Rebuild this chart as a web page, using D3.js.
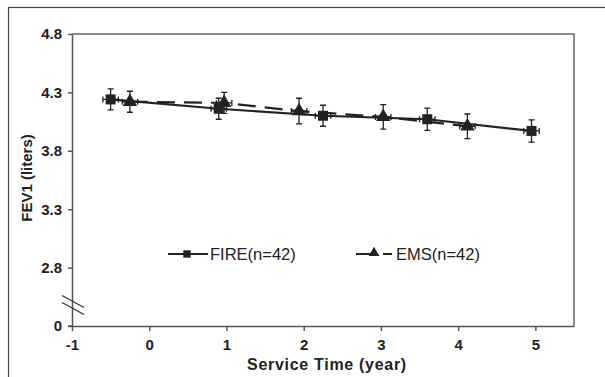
<!DOCTYPE html>
<html>
<head>
<meta charset="utf-8">
<script src="https://cdn.jsdelivr.net/npm/d3@7"></script>
<style>
  body { margin: 0; background: #fff; }
  text { font-family: "Liberation Sans", Arial, sans-serif; fill: #222; }
</style>
</head>
<body>
<svg id="chart" width="605" height="377"></svg>
<script>
// service time (year) and FEV1 (liters) for each group
const fireX = [-0.5, 0.9, 2.25, 3.6, 4.95];
const fireY = [4.24, 4.16, 4.10, 4.07, 3.97];
const fireErrY = [0.09, 0.09, 0.09, 0.095, 0.095];
const emsX = [-0.25, 0.97, 1.94, 3.03, 4.12];
const emsY = [4.22, 4.21, 4.14, 4.09, 4.01];
const emsErrY = [0.09, 0.09, 0.11, 0.105, 0.105];
const errX = 0.1;

const xTicks = [-1, 0, 1, 2, 3, 4, 5];
const yTicks = [2.3, 2.8, 3.3, 3.8, 4.3, 4.8];
const yTickLabels = ["0", "2.8", "3.3", "3.8", "4.3", "4.8"];

const svg = d3.select("#chart");

// outer frame (only left/top fall inside the picture)
svg.append("rect")
  .attr("x", 8.5).attr("y", 7.5)
  .attr("width", 620).attr("height", 400)
  .attr("fill", "none").attr("stroke", "#444").attr("stroke-width", 1.2);

const x = d3.scaleLinear().domain([-1, 5.5]).range([72, 574]);
const y = d3.scaleLinear().domain([2.3, 4.8]).range([326, 34]);

// plot frame top / right
svg.append("path")
  .attr("d", `M${x(-1)},${y(4.8)}H${x(5.5)}V${y(2.3)}`)
  .attr("fill", "none").attr("stroke", "#666").attr("stroke-width", 1.5);

const xAxis = svg.append("g")
  .attr("transform", `translate(0,${y(2.3)})`)
  .call(d3.axisBottom(x).tickValues(xTicks).tickSize(5).tickSizeOuter(0).tickPadding(8).tickFormat(d => String(d)));
const yAxis = svg.append("g")
  .attr("transform", `translate(${x(-1)},0)`)
  .call(d3.axisLeft(y).tickValues(yTicks).tickSize(4).tickSizeOuter(0).tickPadding(6)
    .tickFormat((d, i) => yTickLabels[i]));

[xAxis, yAxis].forEach(a => {
  a.select(".domain").attr("stroke", "#555").attr("stroke-width", 1.5);
  a.selectAll(".tick line").attr("stroke", "#555").attr("stroke-width", 1.5);
  a.selectAll(".tick text")
    .attr("fill", "#222")
    .style("font-family", "'Liberation Sans', Arial, sans-serif")
    .style("font-size", "15px").style("font-weight", "bold");
});
// extend the axes a little past the corner like the original
svg.append("line").attr("x1", 68).attr("x2", x(-1)).attr("y1", y(2.3)).attr("y2", y(2.3))
  .attr("stroke", "#555").attr("stroke-width", 1.5);

// axis break marks
[0, 7].forEach(off => {
  svg.append("line")
    .attr("x1", 62).attr("y1", 295.5 + off)
    .attr("x2", 84).attr("y2", 307.5 + off)
    .attr("stroke", "#333").attr("stroke-width", 1.3);
});

// axis titles
svg.append("text")
  .attr("x", 327).attr("y", 370)
  .attr("text-anchor", "middle")
  .style("font-size", "16px").style("font-weight", "bold").style("letter-spacing", "0.7px")
  .text("Service Time (year)");
svg.append("text")
  .attr("transform", "translate(32,178) rotate(-90)")
  .attr("text-anchor", "middle")
  .style("font-size", "15px").style("font-weight", "bold")
  .text("FEV1 (liters)");

const line = d3.line().x(d => x(d[0])).y(d => y(d[1]));
const fire = fireX.map((v, i) => [v, fireY[i], fireErrY[i]]);
const ems = emsX.map((v, i) => [v, emsY[i], emsErrY[i]]);

function errorBars(data) {
  const g = svg.append("g").attr("stroke", "#222").attr("stroke-width", 1.3);
  data.forEach(d => {
    const cx = x(d[0]), cy = y(d[1]);
    const top = y(d[1] + d[2]), bot = y(d[1] - d[2]);
    const l = x(d[0] - errX), r = x(d[0] + errX);
    g.append("path").attr("fill", "none")
      .attr("d", `M${cx},${top}V${bot}M${cx - 3},${top}H${cx + 3}M${cx - 3},${bot}H${cx + 3}` +
        `M${l},${cy}H${r}M${l},${cy - 3}V${cy + 3}M${r},${cy - 3}V${cy + 3}`);
  });
}

errorBars(ems);
errorBars(fire);

svg.append("path").datum(ems).attr("d", line)
  .attr("fill", "none").attr("stroke", "#222").attr("stroke-width", 2.2)
  .attr("stroke-dasharray", "18,9");
svg.append("path").datum(fire).attr("d", line)
  .attr("fill", "none").attr("stroke", "#222").attr("stroke-width", 2.2);

const sq = d3.symbol().type(d3.symbolSquare).size(100);
const tri = d3.symbol().type(d3.symbolTriangle).size(90);

svg.selectAll(".tri").data(ems).join("path")
  .attr("transform", d => `translate(${x(d[0])},${y(d[1])})`)
  .attr("d", tri).attr("fill", "#222");
svg.selectAll(".sq").data(fire).join("path")
  .attr("transform", d => `translate(${x(d[0])},${y(d[1])})`)
  .attr("d", sq).attr("fill", "#222");

// legend
const lg = svg.append("g");
lg.append("line").attr("x1", 168).attr("x2", 208).attr("y1", 254).attr("y2", 254)
  .attr("stroke", "#222").attr("stroke-width", 2.2);
lg.append("path").attr("transform", "translate(187,254)").attr("d", d3.symbol().type(d3.symbolSquare).size(55)).attr("fill", "#222");
lg.append("text").attr("x", 210).attr("y", 260).style("font-size", "16.5px").text("FIRE(n=42)");

lg.append("line").attr("x1", 356).attr("x2", 392).attr("y1", 254).attr("y2", 254)
  .attr("stroke", "#222").attr("stroke-width", 2.2).attr("stroke-dasharray", "18,9");
lg.append("path").attr("transform", "translate(374,253)").attr("d", d3.symbol().type(d3.symbolTriangle).size(50)).attr("fill", "#222");
lg.append("text").attr("x", 396).attr("y", 260).style("font-size", "16.5px").text("EMS(n=42)");
</script>
</body>
</html>
